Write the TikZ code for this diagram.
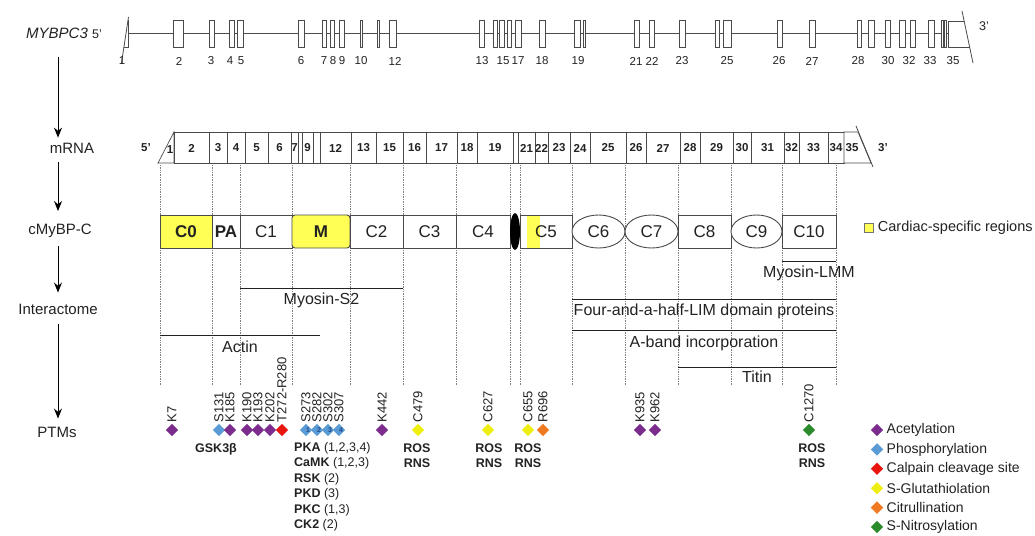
\documentclass[tikz,border=0pt]{standalone}
\usepackage{fontspec}
\setmainfont{Liberation Sans}
\usetikzlibrary{shapes.geometric, arrows.meta, positioning, calc}
\usepackage{xcolor}
\definecolor{txt}{HTML}{222222}
\definecolor{lines}{HTML}{4A4A4A}
\definecolor{cardiac}{HTML}{FFFF55}
\definecolor{acetyl}{HTML}{7B2C8C}
\definecolor{phospho}{HTML}{5B9BD5}
\definecolor{phosdark}{HTML}{1F4E8C}
\definecolor{calpain}{HTML}{E8150F}
\definecolor{glut}{HTML}{EEEE10}
\definecolor{citr}{HTML}{F07A22}
\definecolor{nitro}{HTML}{2B8A2B}

\begin{document}
\begin{tikzpicture}[x=1pt, y=-1pt,
    every node/.style={text=txt, inner sep=1pt},
    rowlbl/.style={font=\fontsize{15}{18}\selectfont},
    gl/.style={draw=lines, line width=0.8pt},
    exon/.style={draw=lines, fill=white, line width=0.8pt},
    seg/.style={draw=lines, fill=white, line width=0.7pt},
    enum/.style={font=\fontsize{11.5}{13}\selectfont},
    mnum/.style={font=\fontsize{11.5}{13}\selectfont\bfseries},
    dom/.style={draw=lines, fill=white, line width=0.9pt, minimum height=33pt,
                inner sep=0pt, font=\fontsize{17}{19}\selectfont},
    domoval/.style={dom, ellipse},
    bold/.style={font=\fontsize{17}{19}\selectfont\bfseries},
    link/.style={ellipse, fill=black, minimum width=10pt, minimum height=37pt, inner sep=0pt},
    guide/.style={densely dotted, gray, line width=0.7pt},
    bind/.style={draw=txt, line width=0.9pt},
    blbl/.style={font=\fontsize{16}{18}\selectfont},
    site/.style={diamond, minimum width=12.5pt, minimum height=12.5pt, inner sep=0pt, fill=#1},
    sitelbl/.style={rotate=90, anchor=west, font=\fontsize{13}{14}\selectfont, inner sep=1pt},
    sitenum/.style={font=\fontsize{7}{8}\selectfont\bfseries, text=phosdark, inner sep=0pt},
    enz/.style={font=\fontsize{12.5}{15.5}\selectfont, align=left},
    leg/.style={font=\fontsize{14}{16}\selectfont, anchor=west},
    arr/.style={-{Stealth[length=10pt, width=8pt]}, line width=1pt, black}
]
\useasboundingbox (0,0) rectangle (1035,535);

% Row labels and arrows
\node[rowlbl] (gene)  at (64,33)  {\textit{MYBPC3} {\fontsize{12.5}{14}\selectfont 5'}};
\node[rowlbl] (mrna)  at (72,148) {mRNA};
\node[rowlbl] (prot)  at (60,231) {cMyBP-C};
\node[rowlbl] (inter) at (58,309) {Interactome};
\node[rowlbl] (ptms)  at (57,432) {PTMs};
\coordinate (ax) at (58,0);
\draw[arr, shorten <=17pt, shorten >=4pt]  (gene.south -| ax)  -- (mrna.north -| ax);
\draw[arr, shorten <=8pt, shorten >=12pt]  (mrna.south -| ax)  -- (prot.north -| ax);
\draw[arr, shorten <=7pt, shorten >=10pt]  (prot.south -| ax)  -- (inter.north -| ax);
\draw[arr, shorten <=9pt, shorten >=7pt]   (inter.south -| ax) -- (ptms.north -| ax);

% Gene
\draw[gl] (128,33) -- (948,33);
\foreach \a/\b in {173/183, 209/214, 229/234, 237/243, 298/304, 322/326, 330/334, 339/344,
                   360.5/362, 377.5/379, 389/396, 479/484, 493/497, 499/504, 507/511, 515/521,
                   539/545, 574/580, 583.5/585, 634/639, 649/654, 679/685, 715/719, 723/731,
                   777/782, 809/815, 857/861, 868/874, 885/890, 899/905, 910/915, 928/934,
                   941.5/943, 944.5/946}
  \draw[exon] (\a,20) rectangle (\b,47);
\draw[exon] (128,20) -- (128,47) -- (123.5,47);
\draw[gl] (128.5,17) -- (121.5,63);
\draw[exon] (964,21) -- (948,21) -- (948,47) -- (970,47);
\draw[gl] (962,11) -- (973,63);
\node[enum, font=\fontsize{12.5}{14}\selectfont] (g3) at (984,26) {3'};
\foreach \x/\n in {122/1, 179/2, 211/3, 230/4, 241/5, 301/6, 324/7, 333/8, 342/9, 361/10,
                   395/12, 482/13, 503/15, 518/17, 542/18, 578/19, 636/21, 652/22, 682/23,
                   727/25, 779/26, 812/27, 858/28, 888/30, 909/32, 930/33, 953/35}
  \node[enum] (e\n) at (\x,61) {\n};

% mRNA
\draw[seg] (158,163) -- (174,132) -- (174,163) -- cycle;
\node[mnum] (m1) at (170,150) {1};
\foreach \a/\b/\n [count=\i] in {174/209/2, 209/227/3, 227/245/4, 245/268/5, 268/291/6, 291/298/7,
                   298/302/, 302/313/9, 313/320/, 320/351/12, 351/376/13, 376/403/15, 403/426/16,
                   426/457/17, 457/477/18, 477/513/19, 513/518/, 518/535/21, 535/548/22,
                   548/570/23, 570/590/24, 590/626/25, 626/646/26, 646/680/27, 680/700/28,
                   700/733/29, 733/751/30, 751/784/31, 784/799/32, 799/828/33, 828/844/34}
{
  \draw[seg] (\a,132) rectangle (\b,163);
  \node[mnum] (ms\i) at ({(\a+\b)/2},148) {\n};
}
\draw[seg] (844,132) -- (858,132) -- (871,163) -- (844,163) -- cycle;
\draw[gl] (856,126) -- (873,167);
\node[mnum] (m35) at (852,148) {35};
\node[mnum] (m5p) at (146,148) {5'};
\node[mnum] (m3p) at (883,148) {3'};

% Guides
\foreach \x in {160,212,240,292,350,403,456,510,520,572,625,678,731,782,836}
  \draw[guide] (\x,165) -- (\x,386);

% Domains
\node[dom, bold, fill=cardiac, minimum width=52pt] (c0) at (186,231.5) {C0};
\node[dom, bold, minimum width=28pt] (pa) at (226,231.5) {PA};
\node[dom, minimum width=52pt] (c1) at (266,231.5) {C1};
\node[dom, bold, fill=cardiac, rounded corners=3pt, minimum width=58pt] (m) at (321,231.5) {M};
\node[dom, minimum width=53pt] (c2) at (376.5,231.5) {C2};
\node[dom, minimum width=53pt] (c3) at (429.5,231.5) {C3};
\node[dom, minimum width=54pt] (c4) at (483,231.5) {C4};
\node[link] (lnk) at (515,231.5) {};
\node[dom, minimum width=52pt,
      path picture={\fill[cardiac] ([xshift=7pt]path picture bounding box.north west)
                    rectangle ([xshift=20pt]path picture bounding box.south west);}]
      (c5) at (546,231.5) {C5};
\node[domoval, minimum width=53pt] (c6) at (598.5,231.5) {C6};
\node[domoval, minimum width=53pt] (c7) at (651.5,231.5) {C7};
\node[dom, minimum width=53pt] (c8) at (704.5,231.5) {C8};
\node[domoval, minimum width=51pt] (c9) at (756.5,231.5) {C9};
\node[dom, minimum width=54pt] (c10) at (809,231.5) {C10};

\node[draw=black!55, fill=cardiac, minimum size=9pt, inner sep=0pt] (ck) at (869,228) {};
\node[leg, right=3pt of ck, font=\fontsize{14.5}{16}\selectfont] (ckt) {Cardiac-specific regions};

% Interactome
\draw[bind] (782,261) -- node[blbl, below=3pt] (lmm) {Myosin-LMM} (836,261);
\draw[bind] (240,288) -- node[blbl, below=3pt] (s2) {Myosin-S2} (403,288);
\draw[bind] (572,299) -- node[blbl, below=3pt] (fhl) {Four-and-a-half-LIM domain proteins} (836,299);
\draw[bind] (572,330) -- node[blbl, below=4pt] (aband) {A-band incorporation} (836,330);
\draw[bind] (160,335) -- node[blbl, below=4pt] (actin) {Actin} (320,335);
\draw[bind] (678,367) -- node[blbl, below=2pt] (titin) {Titin} (836,367);

% PTMs
\foreach \x/\t/\c in {172/K7/acetyl, 219/S131/phospho, 230/K185/acetyl, 247/K190/acetyl,
                      258/K193/acetyl, 270/K202/acetyl, 282/T272-R280/calpain,
                      306/S273/phospho, 317/S282/phospho, 328/S302/phospho, 339/S307/phospho,
                      382/K442/acetyl, 418/C479/glut, 488/C627/glut, 528/C655/glut,
                      543/R696/citr, 640/K935/acetyl, 655/K962/acetyl, 809/C1270/nitro}
{
  \node[site=\c] (d-\t) at (\x,430) {};
  \node[sitelbl] (t-\t) at (d-\t.north) {\t};
}
\foreach \t/\n in {S273/1, S282/2, S302/3, S307/4}
  \node[sitenum] (n\n) at ([xshift=2pt]d-\t.center) {\n};

\node[enz, font=\fontsize{12.5}{15.5}\selectfont\bfseries] (gsk) at (216,449) {GSK3β};
\node[enz, anchor=north west] (kin) at (293,441)
  {\textbf{PKA} (1,2,3,4)\\ \textbf{CaMK} (1,2,3)\\ \textbf{RSK} (2)\\
   \textbf{PKD} (3)\\ \textbf{PKC} (1,3)\\ \textbf{CK2} (2)};
\foreach \x [count=\i] in {417,489,528,812}
  \node[enz, align=center, font=\fontsize{12.5}{15}\selectfont\bfseries] (ros\i) at (\x,456) {ROS\\RNS};

% Legend
\foreach \c/\t [count=\i] in {acetyl/Acetylation, phospho/Phosphorylation,
                              calpain/Calpain cleavage site, glut/S-Glutathiolation,
                              citr/Citrullination, nitro/S-Nitrosylation}
{
  \node[site=\c] (k\i) at (877,{430+19.4*(\i-1)}) {};
  \node[leg] (kt\i) at ([xshift=2pt]k\i.east) {\t};
}
\end{tikzpicture}
\end{document}
